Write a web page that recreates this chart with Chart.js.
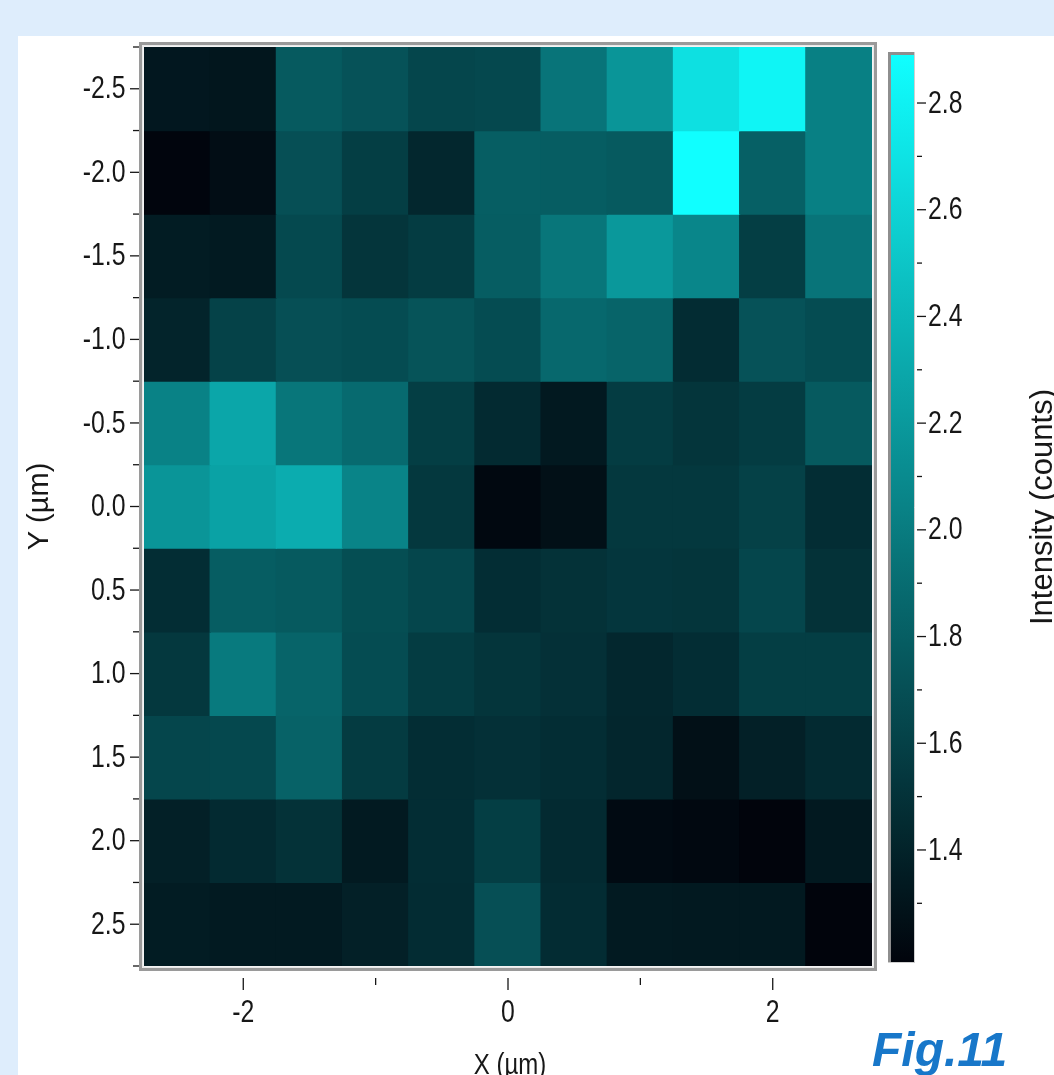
<!DOCTYPE html>
<html>
<head>
<meta charset="utf-8">
<title>Intensity map</title>
<script src="https://cdn.jsdelivr.net/npm/chart.js@4.4.1/dist/chart.umd.min.js"></script>
<style>
  html, body { margin: 0; padding: 0; width: 1054px; height: 1075px; overflow: hidden; background: #deedfc; }
  #panel { position: absolute; left: 18px; top: 36px; right: 0; bottom: 0; background: #ffffff; }
  #wrap { position: absolute; left: 0; top: 0; width: 1054px; height: 1075px; overflow: hidden; }
  #wrap canvas { position: absolute; left: 0; top: 0; }
</style>
</head>
<body>
<div id="panel"></div>
<div id="wrap">
  <canvas id="map" width="1054" height="1100"></canvas>
  <canvas id="bar" width="1054" height="1100"></canvas>
</div>
<script>
// Grid cell centres (µm) and half cell size
const xCenters = [-2.5, -2.0, -1.5, -1.0, -0.5, 0.0, 0.5, 1.0, 1.5, 2.0, 2.5];
const yCenters = [-2.5, -2.0, -1.5, -1.0, -0.5, 0.0, 0.5, 1.0, 1.5, 2.0, 2.5];
const cellHalf = 0.25;

// Intensity (counts), one row per Y position, left to right in X
const rowYm2_5 = [1.32, 1.31, 1.77, 1.72, 1.64, 1.65, 1.95, 2.17, 2.68, 2.82, 2.03];
const rowYm2_0 = [1.20, 1.25, 1.70, 1.58, 1.43, 1.80, 1.79, 1.77, 2.89, 1.81, 2.03];
const rowYm1_5 = [1.35, 1.34, 1.66, 1.52, 1.57, 1.79, 1.96, 2.19, 2.07, 1.58, 1.95];
const rowYm1_0 = [1.41, 1.61, 1.70, 1.68, 1.73, 1.68, 1.87, 1.84, 1.46, 1.72, 1.68];
const rowYm0_5 = [2.04, 2.29, 1.96, 1.88, 1.58, 1.45, 1.33, 1.57, 1.52, 1.57, 1.77];
const rowY0_0  = [2.17, 2.26, 2.33, 2.06, 1.54, 1.22, 1.27, 1.54, 1.54, 1.60, 1.47];
const rowY0_5  = [1.47, 1.79, 1.77, 1.69, 1.64, 1.47, 1.50, 1.53, 1.52, 1.64, 1.50];
const rowY1_0  = [1.54, 1.99, 1.84, 1.68, 1.57, 1.52, 1.49, 1.43, 1.47, 1.58, 1.58];
const rowY1_5  = [1.64, 1.65, 1.83, 1.56, 1.47, 1.49, 1.47, 1.42, 1.27, 1.38, 1.45];
const rowY2_0  = [1.38, 1.45, 1.50, 1.34, 1.47, 1.58, 1.45, 1.23, 1.22, 1.19, 1.33];
const rowY2_5  = [1.35, 1.34, 1.34, 1.38, 1.46, 1.70, 1.46, 1.34, 1.33, 1.33, 1.19];
const intensityRows = [rowYm2_5, rowYm2_0, rowYm1_5, rowYm1_0, rowYm0_5, rowY0_0,
                       rowY0_5, rowY1_0, rowY1_5, rowY2_0, rowY2_5];

// Axis ranges and ticks
const xRange = [-2.75, 2.75];
const yRange = [-2.75, 2.75];
const xMajorTicks = [-2, 0, 2];
const xMinorTicks = [-1, 1];
const yMajorTicks = [-2.5, -2.0, -1.5, -1.0, -0.5, 0.0, 0.5, 1.0, 1.5, 2.0, 2.5];
const yMinorTicks = [-2.75, -2.25, -1.75, -1.25, -0.75, -0.25, 0.25, 0.75, 1.25, 1.75, 2.25, 2.75];

// Colour scale
const cMin = 1.19;
const cMax = 2.89;
const cMajorTicks = [1.4, 1.6, 1.8, 2.0, 2.2, 2.4, 2.6, 2.8];
const cMinorTicks = [1.3, 1.5, 1.7, 1.9, 2.1, 2.3, 2.5, 2.7];

const INK = '#171717';
const SANS = 'Liberation Sans';
const NARROW_X = 0.8;          // horizontal squeeze for the condensed label face
const LABEL_PX = 31;

// black -> cyan colour map
function cmap(v) {
  const t = Math.min(1, Math.max(0, (v - cMin) / (cMax - cMin)));
  const r = Math.round(1 + 15 * t);
  const g = Math.round(4 + 251 * t);
  const b = Math.round(12 + 243 * t);
  return 'rgb(' + r + ',' + g + ',' + b + ')';
}

function line(ctx, x1, y1, x2, y2) {
  ctx.beginPath(); ctx.moveTo(x1, y1); ctx.lineTo(x2, y2); ctx.stroke();
}

// condensed text: squeezed horizontally around its anchor point
function narrowText(ctx, text, x, y, align, size) {
  ctx.save();
  ctx.font = size + 'px "' + SANS + '"';
  ctx.textAlign = align;
  ctx.textBaseline = 'middle';
  ctx.fillStyle = INK;
  ctx.translate(x, y);
  ctx.scale(NARROW_X, 1);
  ctx.fillText(text, 0, 0);
  ctx.restore();
}

// Sunken frame around the map, tick marks and tick labels
const mapDecor = {
  id: 'mapDecor',
  afterDraw(chart) {
    const { ctx, chartArea: a, scales: { x, y } } = chart;
    ctx.save();
    ctx.strokeStyle = '#9a9a9a'; ctx.lineWidth = 3;
    ctx.strokeRect(a.left - 3.5, a.top - 3.5, a.width + 7, a.height + 7);
    ctx.strokeStyle = '#e9e9e9'; ctx.lineWidth = 1.5;
    ctx.strokeRect(a.left - 1.25, a.top - 1.25, a.width + 2.5, a.height + 2.5);

    ctx.strokeStyle = INK; ctx.lineWidth = 1.3;
    yMajorTicks.forEach(v => { const p = y.getPixelForValue(v); line(ctx, a.left - 14, p, a.left - 5, p); });
    yMinorTicks.forEach(v => { const p = y.getPixelForValue(v); line(ctx, a.left - 11, p, a.left - 5, p); });
    xMajorTicks.forEach(v => { const p = x.getPixelForValue(v); line(ctx, p, a.bottom + 12, p, a.bottom + 24); });
    xMinorTicks.forEach(v => { const p = x.getPixelForValue(v); line(ctx, p, a.bottom + 12, p, a.bottom + 19); });
    ctx.restore();

    yMajorTicks.forEach(v => narrowText(ctx, v.toFixed(1), a.left - 18.5, y.getPixelForValue(v) + 1, 'right', LABEL_PX));
    xMajorTicks.forEach(v => narrowText(ctx, String(v), x.getPixelForValue(v), a.bottom + 47, 'center', LABEL_PX));
    narrowText(ctx, 'X (µm)', (a.left + a.right) / 2 + 2, 1066, 'center', 30);

    ctx.save();
    ctx.fillStyle = '#1877c9';
    ctx.font = 'italic bold 48px "' + SANS + '"';
    ctx.textAlign = 'left'; ctx.textBaseline = 'alphabetic';
    ctx.fillText('Fig.11', 872, 1066);
    ctx.restore();
  }
};

const datasets = intensityRows.map((row, r) => ({
  label: 'Y = ' + yCenters[r].toFixed(1),
  data: xCenters.map((x, c) => ({ x: x, y: [yCenters[r] - cellHalf, yCenters[r] + cellHalf], v: row[c] })),
  backgroundColor: ctx => cmap(ctx.raw ? ctx.raw.v : cMin),
  borderWidth: 0,
  barPercentage: 1,
  categoryPercentage: 1,
  grouped: false,
  inflateAmount: 0.6
}));

new Chart(document.getElementById('map'), {
  type: 'bar',
  data: { datasets: datasets },
  options: {
    responsive: false,
    animation: false,
    devicePixelRatio: 1,
    layout: { padding: { left: 0, top: 47, right: 182, bottom: 0 } },
    plugins: { legend: { display: false }, tooltip: { enabled: false } },
    scales: {
      x: {
        type: 'linear', min: xRange[0], max: xRange[1], offset: false,
        grid: { display: false, drawTicks: false }, border: { display: false },
        afterBuildTicks: s => { s.ticks = xMajorTicks.map(value => ({ value })); },
        afterFit: s => { s.height = 134; },
        ticks: { display: false }
      },
      y: {
        type: 'linear', reverse: true, min: yRange[0], max: yRange[1],
        grid: { display: false, drawTicks: false }, border: { display: false },
        afterBuildTicks: s => { s.ticks = yMajorTicks.map(value => ({ value })); },
        afterFit: s => { s.width = 144; },
        ticks: { display: false },
        title: { display: true, text: 'Y (µm)', color: INK,
                 font: { family: SANS, size: 29 }, padding: { top: 22.6, bottom: 0 } }
      }
    }
  },
  plugins: [mapDecor]
});

// Colour bar: frame, tick marks, tick labels and title
const barDecor = {
  id: 'barDecor',
  afterDraw(chart) {
    const { ctx, chartArea: a, scales: { y } } = chart;
    ctx.save();
    ctx.strokeStyle = '#8e8e8e'; ctx.lineWidth = 3;
    line(ctx, a.left - 1.5, a.top - 3, a.left - 1.5, a.bottom + 1);
    line(ctx, a.left - 3, a.top - 1.5, a.right + 1, a.top - 1.5);
    ctx.strokeStyle = '#cfcfcf'; ctx.lineWidth = 1;
    line(ctx, a.right + 0.5, a.top - 3, a.right + 0.5, a.bottom + 1);
    line(ctx, a.left - 3, a.bottom + 0.5, a.right + 1, a.bottom + 0.5);

    ctx.strokeStyle = INK; ctx.lineWidth = 1.3;
    cMajorTicks.forEach(v => { const p = y.getPixelForValue(v); line(ctx, a.right + 3, p, a.right + 12, p); });
    cMinorTicks.forEach(v => { const p = y.getPixelForValue(v); line(ctx, a.right + 3, p, a.right + 8, p); });
    ctx.restore();

    cMajorTicks.forEach(v => narrowText(ctx, v.toFixed(1), a.right + 14, y.getPixelForValue(v) + 1, 'left', LABEL_PX));

    ctx.save();
    ctx.translate(1043, (a.top + a.bottom) / 2 - 1.5);
    ctx.rotate(-Math.PI / 2);
    ctx.fillStyle = INK;
    ctx.font = '31px "' + SANS + '"';
    ctx.textAlign = 'center'; ctx.textBaseline = 'middle';
    ctx.fillText('Intensity (counts)', 0, 0);
    ctx.restore();
  }
};

new Chart(document.getElementById('bar'), {
  type: 'bar',
  data: {
    labels: ['Intensity'],
    datasets: [{
      data: [[cMin, cMax]],
      backgroundColor: ctx => {
        const a = ctx.chart.chartArea;
        if (!a) return cmap(cMin);
        const g = ctx.chart.ctx.createLinearGradient(0, a.bottom, 0, a.top);
        for (let i = 0; i <= 20; i++) g.addColorStop(i / 20, cmap(cMin + (cMax - cMin) * i / 20));
        return g;
      },
      borderWidth: 0,
      barPercentage: 1,
      categoryPercentage: 1,
      inflateAmount: 0
    }]
  },
  options: {
    responsive: false,
    animation: false,
    devicePixelRatio: 1,
    layout: { padding: { left: 891, top: 55, right: 0, bottom: 138 } },
    plugins: { legend: { display: false }, tooltip: { enabled: false } },
    scales: {
      x: { display: false },
      y: {
        position: 'right', min: cMin, max: cMax,
        grid: { display: false, drawTicks: false }, border: { display: false },
        afterBuildTicks: s => { s.ticks = cMajorTicks.map(value => ({ value })); },
        afterFit: s => { s.width = 140; },
        ticks: { display: false }
      }
    }
  },
  plugins: [barDecor]
});
</script>
</body>
</html>
